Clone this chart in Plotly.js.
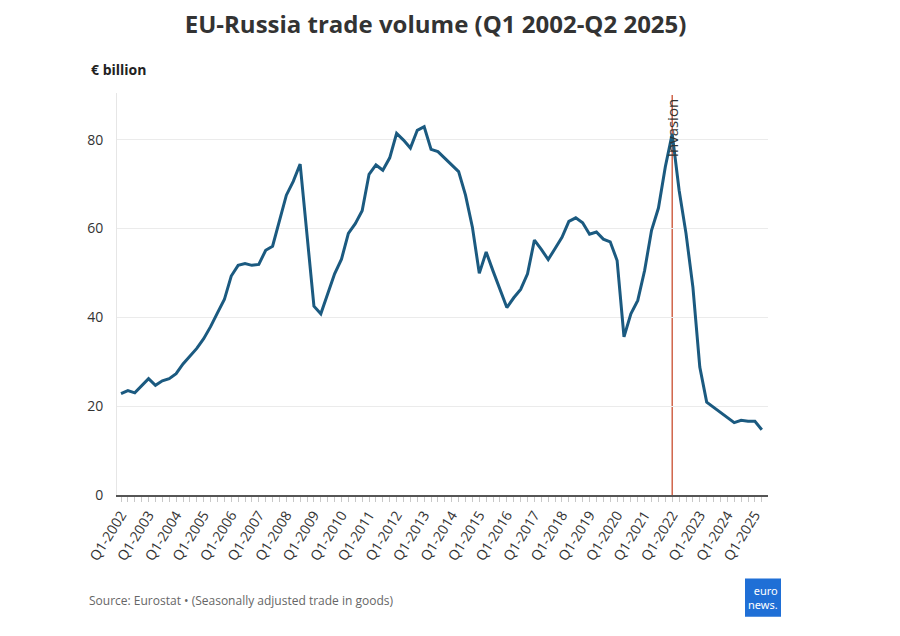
<!DOCTYPE html>
<html>
<head>
<meta charset="utf-8">
<script src="https://cdn.plot.ly/plotly-3.0.1.min.js"></script>
<style>
  html, body { margin: 0; padding: 0; background: #ffffff; }
  #chart { width: 900px; height: 636px; }
</style>
</head>
<body>
<div id="chart"></div>
<script>
// Quarter categories (Q1 2002 - Q2 2025)
var quarters = [
  'Q1-2002','Q2-2002','Q3-2002','Q4-2002','Q1-2003','Q2-2003','Q3-2003','Q4-2003',
  'Q1-2004','Q2-2004','Q3-2004','Q4-2004','Q1-2005','Q2-2005','Q3-2005','Q4-2005',
  'Q1-2006','Q2-2006','Q3-2006','Q4-2006','Q1-2007','Q2-2007','Q3-2007','Q4-2007',
  'Q1-2008','Q2-2008','Q3-2008','Q4-2008','Q1-2009','Q2-2009','Q3-2009','Q4-2009',
  'Q1-2010','Q2-2010','Q3-2010','Q4-2010','Q1-2011','Q2-2011','Q3-2011','Q4-2011',
  'Q1-2012','Q2-2012','Q3-2012','Q4-2012','Q1-2013','Q2-2013','Q3-2013','Q4-2013',
  'Q1-2014','Q2-2014','Q3-2014','Q4-2014','Q1-2015','Q2-2015','Q3-2015','Q4-2015',
  'Q1-2016','Q2-2016','Q3-2016','Q4-2016','Q1-2017','Q2-2017','Q3-2017','Q4-2017',
  'Q1-2018','Q2-2018','Q3-2018','Q4-2018','Q1-2019','Q2-2019','Q3-2019','Q4-2019',
  'Q1-2020','Q2-2020','Q3-2020','Q4-2020','Q1-2021','Q2-2021','Q3-2021','Q4-2021',
  'Q1-2022','Q2-2022','Q3-2022','Q4-2022','Q1-2023','Q2-2023','Q3-2023','Q4-2023',
  'Q1-2024','Q2-2024','Q3-2024','Q4-2024','Q1-2025','Q2-2025'
];

// EU-Russia trade volume, € billion
var tradeVolume = [
  22.8, 23.5, 23.0, 24.7, 26.2, 24.7, 25.7, 26.2,
  27.3, 29.5, 31.2, 33.0, 35.2, 37.9, 41.0, 44.0,
  49.3, 51.7, 52.1, 51.7, 51.9, 55.1, 56.0, 61.9,
  67.5, 70.6, 74.5, 58.5, 42.5, 40.8, 45.4, 49.8,
  53.1, 58.9, 61.1, 64.0, 72.2, 74.3, 73.1, 75.9,
  81.4, 79.9, 78.1, 82.1, 82.9, 77.8, 77.3, 75.8,
  74.1, 72.8, 67.5, 60.3, 49.9, 54.7, 50.4, 46.4,
  42.2, 44.4, 46.3, 49.8, 57.4, 55.3, 53.0, 55.5,
  58.0, 61.6, 62.4, 61.3, 58.7, 59.2, 57.6, 57.0,
  52.8, 35.6, 40.8, 43.8, 50.6, 59.6, 64.6, 73.9,
  81.3, 68.6, 58.9, 46.8, 28.8, 20.9, 19.8, 18.7,
  17.6, 16.3, 16.8, 16.6, 16.6, 14.7
];

var yTicks = [0, 20, 40, 60, 80];
var invasionQuarter = 'Q1-2022';
var invasionLabel = 'Invasion';

var titleText = 'EU-Russia trade volume (Q1 2002-Q2 2025)';
var unitText = '€ billion';
var sourceText = 'Source: Eurostat • (Seasonally adjusted trade in goods)';

// label only Q1 ticks, keep small tick marks for every quarter
var tickText = quarters.map(function (q) { return q.indexOf('Q1') === 0 ? q : ''; });

var trace = {
  x: quarters,
  y: tradeVolume,
  type: 'scatter',
  mode: 'lines',
  line: { color: '#1b5a80', width: 3 },
  hoverinfo: 'x+y'
};

var layout = {
  width: 900,
  height: 636,
  paper_bgcolor: '#ffffff',
  plot_bgcolor: '#ffffff',
  margin: { l: 117, r: 132, t: 93, b: 141, pad: 0 },
  font: { family: '"Open Sans", "Noto Sans", sans-serif', color: '#333333' },
  showlegend: false,
  title: {
    text: '<b>' + titleText + '</b>',
    font: { size: 24, color: '#333333', family: '"Open Sans", "Noto Sans", sans-serif' },
    x: 0.484, xref: 'container', xanchor: 'center',
    y: 0.961, yref: 'container', yanchor: 'middle'
  },
  xaxis: {
    type: 'category',
    range: [-0.58, 93.9],
    tickmode: 'array',
    tickvals: quarters,
    ticktext: tickText,
    tickangle: -58,
    ticks: 'outside',
    ticklen: 5,
    tickwidth: 1,
    tickcolor: '#c8c8c8',
    tickfont: { size: 14, color: '#333333' },
    showgrid: false,
    showline: true,
    linecolor: '#555555',
    linewidth: 1.5,
    zeroline: false,
    fixedrange: true
  },
  yaxis: {
    range: [0, 90.5],
    tickmode: 'array',
    tickvals: yTicks,
    ticktext: yTicks.map(String),
    tickfont: { size: 14, color: '#333333' },
    ticks: '',
    ticklabelstandoff: 10,
    showgrid: true,
    gridcolor: '#ebebeb',
    gridwidth: 1,
    showline: true,
    linecolor: '#e6e6e6',
    linewidth: 1,
    zeroline: false,
    fixedrange: true
  },
  shapes: [
    {
      type: 'line',
      xref: 'x', yref: 'paper',
      x0: invasionQuarter, x1: invasionQuarter,
      y0: 0, y1: 0.995,
      line: { color: '#d0654a', width: 1.5 },
      layer: 'below'
    },
    {
      type: 'rect',
      xref: 'paper', yref: 'paper',
      x0: (745 - 117) / 651, x1: (781 - 117) / 651,
      y0: (494.5 - 616) / 401.5, y1: (494.5 - 578) / 401.5,
      fillcolor: '#1f6fd6',
      line: { width: 0 },
      layer: 'above'
    }
  ],
  annotations: [
    {
      text: invasionLabel,
      xref: 'x', yref: 'paper',
      x: invasionQuarter, y: 0.99,
      xanchor: 'center', yanchor: 'top',
      textangle: -90,
      showarrow: false,
      font: { size: 15, color: '#333333' }
    },
    {
      text: '<b>' + unitText + '</b>',
      xref: 'paper', yref: 'paper',
      x: (89 - 117) / 651, y: (494.5 - 70) / 401.5,
      xanchor: 'left', yanchor: 'middle',
      showarrow: false,
      font: { size: 14, color: '#222222' }
    },
    {
      text: sourceText,
      xref: 'paper', yref: 'paper',
      x: (87 - 117) / 651, y: (494.5 - 600) / 401.5,
      xanchor: 'left', yanchor: 'middle',
      showarrow: false,
      font: { size: 12, color: '#666666' }
    },
    {
      text: 'euro<br>news.',
      xref: 'paper', yref: 'paper',
      x: (763 - 117) / 651, y: (494.5 - 597) / 401.5,
      xanchor: 'center', yanchor: 'middle',
      showarrow: false,
      align: 'right',
      font: { size: 11, color: '#ffffff', family: '"Noto Sans", sans-serif' }
    }
  ]
};

Plotly.newPlot('chart', [trace], layout, { displayModeBar: false, staticPlot: true });
</script>
</body>
</html>
